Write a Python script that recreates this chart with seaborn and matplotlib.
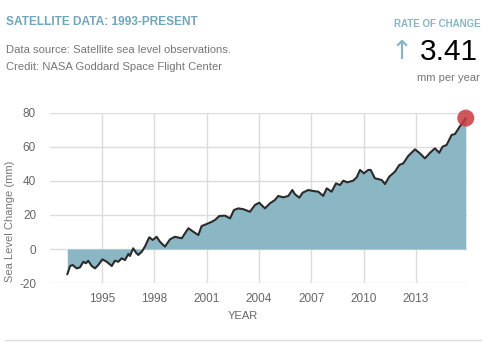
import numpy as np
import pandas as pd
import matplotlib
matplotlib.use("Agg")
import matplotlib.pyplot as plt
import seaborn as sns

# Satellite sea level record (mm relative to baseline)
years = [
    1993.01, 1993.17, 1993.32, 1993.55, 1993.74, 1993.93, 1994.08, 1994.21,
    1994.41, 1994.60, 1994.79, 1995.02, 1995.27, 1995.56, 1995.74, 1995.93,
    1996.13, 1996.32, 1996.51, 1996.60, 1996.79, 1996.95, 1997.08, 1997.28,
    1997.46, 1997.71, 1997.91, 1998.13, 1998.32, 1998.61, 1998.90, 1999.18,
    1999.57, 1999.95, 2000.23, 2000.52, 2000.71, 2001.00, 2001.29, 2001.48,
    2001.72, 2002.05, 2002.34, 2002.56, 2002.81, 2003.10, 2003.48, 2003.77,
    2004.01, 2004.34, 2004.63, 2004.91, 2005.10, 2005.39, 2005.68, 2005.91,
    2006.06, 2006.31, 2006.50, 2006.82, 2007.11, 2007.40, 2007.68, 2007.88,
    2008.16, 2008.41, 2008.64, 2008.83, 2009.06, 2009.40, 2009.60, 2009.79,
    2010.01, 2010.26, 2010.40, 2010.64, 2011.03, 2011.22, 2011.46, 2011.79,
    2012.04, 2012.27, 2012.55, 2012.94, 2013.22, 2013.51, 2013.80, 2014.08,
    2014.33, 2014.52, 2014.75, 2015.04, 2015.23, 2015.48, 2015.85,
]
sea_level_mm = [
    -14.9, -10.0, -9.4, -11.4, -10.8, -7.5, -8.4, -6.9,
    -10.0, -11.4, -9.4, -6.1, -7.5, -10.0, -6.9, -7.5,
    -5.5, -6.5, -2.9, -4.1, 0.4, -2.2, -3.5, -1.6,
    1.4, 6.9, 5.3, 7.2, 4.3, 1.4, 5.7, 7.2,
    6.3, 12.2, 10.2, 8.2, 13.5, 14.7, 16.0, 17.1,
    19.4, 19.6, 18.0, 22.9, 23.9, 23.4, 21.9, 25.9,
    27.2, 23.9, 26.9, 28.8, 31.2, 30.4, 31.2, 34.7,
    32.2, 30.2, 33.1, 34.7, 34.1, 33.7, 31.2, 35.7,
    33.7, 38.6, 37.6, 40.2, 39.2, 40.2, 42.2, 46.5,
    44.5, 46.5, 46.5, 41.6, 40.6, 38.2, 42.5, 45.5,
    49.4, 50.4, 54.7, 58.6, 56.3, 53.3, 56.6, 59.2,
    56.6, 60.2, 61.2, 67.1, 67.6, 71.6, 77.0,
]
x_ticks = [1995, 1998, 2001, 2004, 2007, 2010, 2013]
y_ticks = [-20, 0, 20, 40, 60, 80]
rate_of_change = "3.41"

df = pd.DataFrame({"year": years, "level": sea_level_mm})

sns.set_theme(style="white")
plt.rcParams["font.family"] = ["Liberation Sans", "DejaVu Sans"]

FILL = "#8bb7c5"
TITLE_BLUE = "#6fa6b9"
GRAY = "#777777"

fig = plt.figure(figsize=(5.0, 3.45), dpi=100)
ax = fig.add_axes([0.100, 0.1797, 0.834, 0.4928])

ax.fill_between(df["year"], 0, df["level"], color=FILL, linewidth=0, zorder=2)
sns.lineplot(data=df, x="year", y="level", ax=ax, color="#2b2b2b",
             linewidth=1.5, zorder=3)
last = df.iloc[[-1]]
sns.scatterplot(data=last, x="year", y="level", ax=ax, s=150,
                color="#c8393d", alpha=0.85, edgecolor="none", zorder=4,
                clip_on=False)

ax.set_xlim(1992.02, 2015.92)
ax.set_ylim(-20, 80)
ax.set_xticks(x_ticks)
ax.set_yticks(y_ticks)
ax.set_xticklabels([str(t) for t in x_ticks])
ax.set_yticklabels([str(t) for t in y_ticks])
ax.grid(True, color="#dcdcdc", linewidth=1.0, zorder=1)
ax.set_axisbelow(True)
for s in ax.spines.values():
    s.set_visible(False)
ax.tick_params(axis="both", length=0, labelsize=8.5, labelcolor="#666666")
ax.tick_params(axis="y", pad=10)
ax.tick_params(axis="x", pad=7)
ax.set_xlabel("")
ax.set_ylabel("")

W, H = 500, 345
def fx(px):
    return px / W
def fy(py):
    return 1 - py / H

fig.text(fx(10), fy(221), "Sea Level Change (mm)", rotation=90,
         ha="center", va="center", fontsize=8, color=GRAY)
fig.text(fx(243), fy(316), "YEAR", ha="center", va="center",
         fontsize=8, color="#666666")

fig.text(fx(6), fy(22), "SATELLITE DATA: 1993-PRESENT", ha="left",
         va="center", fontsize=8.6, fontweight="bold", color=TITLE_BLUE)
fig.text(fx(6), fy(50), "Data source: Satellite sea level observations.",
         ha="left", va="center", fontsize=8.1, color=GRAY)
fig.text(fx(6), fy(67), "Credit: NASA Goddard Space Flight Center",
         ha="left", va="center", fontsize=8.1, color=GRAY)

fig.text(fx(481), fy(24), "RATE OF CHANGE", ha="right", va="center",
         fontsize=7, fontweight="bold", color="#86b6c6")
fig.text(fx(402), fy(52), "\u2191", ha="center", va="center",
         fontsize=19, color="#86b6c6", family=["DejaVu Sans"])
fig.text(fx(478), fy(52), rate_of_change, ha="right", va="center",
         fontsize=21.5, color="black")
fig.text(fx(480), fy(78), "mm per year", ha="right", va="center",
         fontsize=8, color=GRAY)

fig.add_artist(plt.Line2D([fx(5), fx(481)], [fy(340), fy(340)],
                          color="#dddddd", linewidth=1.0))

fig.savefig("out.png", dpi=100)
